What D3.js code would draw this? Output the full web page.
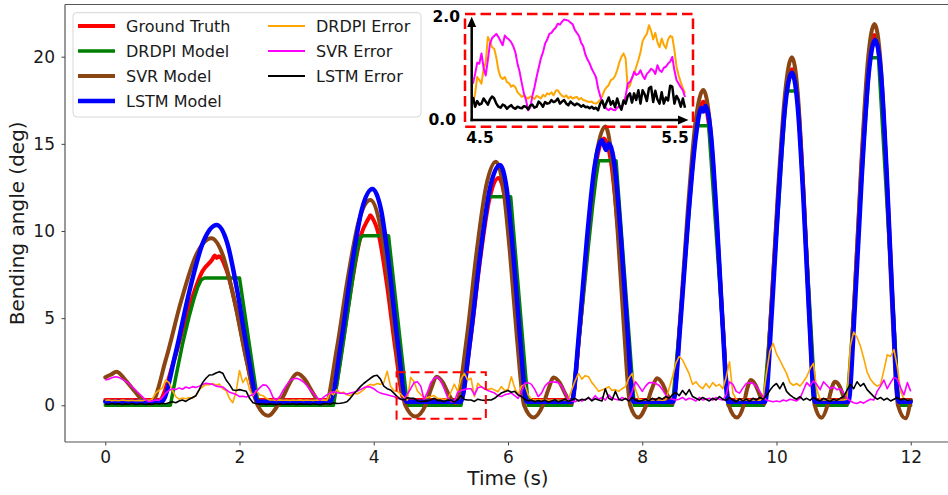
<!DOCTYPE html>
<html><head><meta charset="utf-8">
<script src="https://cdn.jsdelivr.net/npm/d3@7"></script>
<style>body{margin:0;background:#fff;} svg{display:block;}</style>
</head><body><svg id="c" width="948" height="495"></svg>
<script>
// ---------------- DATA ----------------
const xTicks = [0, 2, 4, 6, 8, 10, 12];
const yTicks = [0, 5, 10, 15, 20];
const seriesNames = ['Ground Truth','DRDPI Model','SVR Model','LSTM Model','DRDPI Error','SVR Error','LSTM Error'];

// model curves: [time (s), angle (deg)]
const truthPts = [
[0,0.3],[0.8,0.3],[1.02,2.52],[1.23,5.40],[1.45,7.71],[1.60,8.40],[1.63,8.60],[1.66,8.45],[1.69,8.55],[1.81,7.71],[1.96,5.40],[2.11,2.52],[2.26,0.3],
[3.38,0.3],[3.52,3.14],[3.665,6.82],[3.81,9.77],[3.92,10.70],[3.95,10.90],[3.98,10.75],[4.075,9.77],[4.20,6.82],[4.325,3.14],[4.45,0.3],
[5.30,0.3],[5.44,3.74],[5.58,8.20],[5.72,11.77],[5.86,13.04],[5.96,11.77],[6.065,8.20],[6.17,3.74],[6.27,0.3],
[6.95,0.3],[7.07,4.35],[7.19,9.6],[7.31,13.8],[7.43,15.3],[7.54,13.8],[7.65,9.6],[7.76,4.35],[7.87,0.3],
[8.46,0.3],[8.57,4.92],[8.685,10.91],[8.80,15.71],[8.91,17.42],[9.005,15.71],[9.10,10.91],[9.195,4.92],[9.29,0.3],
[9.82,0.3],[9.92,5.42],[10.025,12.07],[10.13,17.38],[10.23,19.28],[10.32,17.38],[10.405,12.07],[10.49,5.42],[10.58,0.3],
[11.06,0.3],[11.16,5.96],[11.26,13.29],[11.36,19.16],[11.46,21.25],[11.55,19.16],[11.64,13.29],[11.73,5.96],[11.82,0.3],
[12,0.3]];

const drdpiPts = [
[0,0],[0.97,0],[1.05,1.6],[1.15,3.5],[1.25,5.1],[1.32,6.1],[1.38,6.8],[1.43,7.2],[1.48,7.3],[2.0,7.3],[2.28,0],
[3.40,0],[3.50,2.4],[3.58,4.5],[3.65,6.3],[3.71,7.9],[3.76,9.0],[3.80,9.6],[3.84,9.73],[4.22,9.73],[4.50,0],
[5.30,0],[5.40,2.9],[5.48,5.4],[5.56,7.9],[5.62,9.7],[5.67,11.0],[5.71,11.97],[6.04,11.97],[6.30,0],
[6.95,0],[7.05,3.5],[7.13,6.5],[7.20,9.2],[7.26,11.4],[7.31,13.0],[7.35,14.03],[7.61,14.03],[7.88,0],
[8.45,0],[8.54,3.8],[8.61,7.0],[8.68,10.3],[8.74,13.2],[8.78,14.9],[8.81,16.04],[8.99,16.04],[9.28,0],
[9.81,0],[9.89,3.8],[9.96,7.6],[10.03,11.4],[10.08,14.4],[10.12,16.6],[10.15,18.03],[10.31,18.03],[10.58,0],
[11.05,0],[11.13,4.2],[11.20,8.4],[11.26,12.4],[11.31,15.5],[11.36,18.2],[11.39,19.94],[11.52,19.94],[11.82,0],[12,0]];

const svrPts = [
[0,1.6],[0.08,1.75],[0.17,1.93],[0.30,1.45],[0.45,0.75],[0.60,0.15],[0.68,0.1],
[0.905,2.66],[1.13,5.98],[1.355,8.63],[1.58,9.58],[1.75,8.63],[1.925,5.98],[2.10,2.66],[2.27,0],[2.43,-0.6],[2.57,0],[2.65,0.5],[2.75,1.3],[2.86,1.82],[2.97,1.5],[3.08,0.8],[3.20,0.15],[3.28,0.1],
[3.45,3.25],[3.615,7.34],[3.78,10.61],[3.95,11.78],[4.08,10.6],[4.21,7.3],[4.34,3.2],[4.47,0],[4.62,-0.65],[4.77,0],[4.85,0.9],[4.94,1.64],[5.03,1.3],[5.12,0.6],[5.22,0.1],
[5.385,3.85],[5.53,8.71],[5.675,12.59],[5.82,13.98],[5.925,12.6],[6.03,8.7],[6.135,3.8],[6.24,0],[6.38,-0.7],[6.52,0],[6.60,0.9],[6.68,1.6],[6.77,1.3],[6.86,0.6],[6.94,0.1],
[7.07,4.39],[7.195,9.96],[7.32,14.41],[7.45,16.0],[7.54,14.4],[7.635,9.9],[7.73,4.3],[7.82,0],[7.94,-0.7],[8.06,0],[8.14,0.9],[8.22,1.55],[8.30,1.25],[8.38,0.55],[8.45,0.1],
[8.565,4.96],[8.68,11.25],[8.795,16.29],[8.91,18.09],[9.005,16.3],[9.10,11.2],[9.195,4.9],[9.29,0],[9.41,-0.7],[9.51,0],[9.56,0.9],[9.62,1.45],[9.69,1.15],[9.76,0.5],[9.82,0.1],
[9.92,5.46],[10.025,12.42],[10.13,17.98],[10.23,19.97],[10.315,18.0],[10.40,12.4],[10.485,5.4],[10.57,0],[10.67,-0.72],[10.76,0],[10.81,0.8],[10.87,1.35],[10.94,1.1],[11.00,0.5],[11.06,0.1],
[11.16,5.98],[11.26,13.60],[11.36,19.70],[11.46,21.88],[11.55,19.7],[11.635,13.5],[11.72,5.9],[11.81,0],[11.92,-0.75],[12,0.3]];

const lstmPts = [
[0,0.2],[0.84,0.2],[1.045,2.94],[1.25,6.49],[1.455,9.33],[1.66,10.34],[1.815,9.33],[1.97,6.49],[2.125,2.94],[2.28,0.2],
[3.35,0.2],[3.51,3.50],[3.665,7.77],[3.82,11.19],[3.98,12.41],[4.11,11.19],[4.235,7.77],[4.36,3.50],[4.49,0.2],
[5.29,0.2],[5.44,3.87],[5.585,8.63],[5.73,12.43],[5.88,13.79],[5.98,12.43],[6.08,8.63],[6.18,3.87],[6.28,0.2],
[6.95,0.2],[7.06,4.25],[7.175,9.5],[7.29,13.7],[7.40,15.2],[7.46,14.65],[7.50,15.0],[7.59,13.7],[7.685,9.5],[7.78,4.25],[7.87,0.2],
[8.46,0.2],[8.57,4.78],[8.685,10.72],[8.80,15.47],[8.88,17.05],[8.91,16.85],[8.94,17.17],[9.025,15.47],[9.11,10.72],[9.195,4.78],[9.28,0.2],
[9.83,0.2],[9.93,5.30],[10.03,11.91],[10.13,17.19],[10.23,19.08],[10.315,17.19],[10.40,11.91],[10.485,5.30],[10.57,0.2],
[11.07,0.2],[11.17,5.81],[11.27,13.07],[11.37,18.88],[11.47,20.96],[11.56,18.88],[11.645,13.07],[11.73,5.81],[11.82,0.2],[12,0.2]];

// error curves sampled every 0.05 s from 0 to 12 s
const drdpiErr = [
0.28,0.30,0.27,0.29,0.26,0.30,0.28,0.27,0.29,0.26,
0.28,0.27,0.30,0.28,0.35,0.70,0.85,1.00,1.45,1.30,
0.85,0.50,0.35,0.42,0.38,0.45,0.40,0.55,0.90,1.05,
1.20,1.18,1.25,1.15,1.22,0.95,0.85,0.40,0.15,0.80,
2.00,1.30,1.60,0.90,0.55,0.85,0.60,0.55,0.40,0.30,
0.30,0.28,0.31,0.29,0.30,0.28,0.30,0.29,0.31,0.28,
0.30,0.29,0.28,0.30,0.29,0.31,0.28,0.75,0.60,0.90,
0.70,0.75,0.60,0.55,0.70,0.65,0.75,0.90,1.10,1.20,
1.15,1.25,1.20,1.30,1.95,1.10,0.85,0.80,0.65,0.45,
0.30,1.60,1.37,0.82,0.62,0.42,0.45,0.50,0.56,0.40,
0.38,0.33,0.37,0.76,1.21,0.80,1.52,1.83,1.45,1.55,
0.50,1.26,1.07,0.95,0.90,0.97,0.88,0.78,1.07,0.85,
0.90,1.64,1.00,0.60,1.10,1.20,0.60,0.35,0.30,0.32,
0.30,0.31,0.29,0.30,0.31,0.29,0.30,0.32,0.30,0.90,
1.40,1.83,1.50,1.70,1.64,1.30,1.07,0.80,0.88,0.95,
1.07,0.85,0.90,0.80,0.95,1.07,1.55,1.83,0.90,0.35,
0.30,0.31,0.29,0.30,0.32,0.30,0.29,0.31,0.95,1.64,
2.40,2.80,2.60,2.20,1.80,1.20,1.35,1.10,0.95,1.25,
1.00,1.30,1.10,1.20,0.95,1.60,2.50,0.70,0.35,0.30,
0.31,0.29,0.30,0.32,0.30,0.29,0.40,1.80,3.10,3.55,
2.95,2.60,2.20,1.83,1.30,1.15,1.25,1.10,1.35,1.64,
2.10,2.40,0.90,0.35,0.30,0.31,0.29,0.30,0.31,0.30,
0.30,0.35,3.40,4.20,3.90,3.40,2.70,1.90,1.50,1.25,
1.10,1.20,2.00,2.90,2.80,3.20,2.20,0.80,0.35,0.32,
0.30];

const svrErr = [
1.45,1.50,1.58,1.64,1.60,1.50,1.40,1.26,1.05,0.88,
0.69,0.50,0.31,0.20,0.25,0.30,0.28,0.45,0.70,0.85,
0.95,0.90,1.00,0.92,1.05,0.98,1.07,1.02,1.10,1.20,
1.26,1.24,1.20,1.10,1.07,1.05,0.90,0.75,0.69,0.62,
0.50,0.52,0.48,0.55,0.60,0.80,1.00,1.17,1.15,0.90,
0.45,0.30,0.50,0.85,1.15,1.40,1.52,1.55,1.48,1.35,
1.15,0.90,0.69,0.45,0.30,0.45,0.60,0.70,0.78,0.72,
0.70,0.69,0.65,0.70,0.75,0.80,0.90,1.00,1.07,1.05,
0.95,0.80,0.70,0.65,0.60,0.55,0.50,0.40,0.35,0.30,
0.65,0.95,1.30,1.35,1.10,0.35,0.75,1.30,1.55,1.62,
1.40,0.95,0.45,0.21,0.21,0.75,0.85,0.90,0.95,0.95,
0.60,1.00,1.07,0.95,0.85,0.78,0.70,0.55,0.50,0.60,
0.65,0.70,0.55,0.40,0.80,1.26,1.30,1.20,0.90,0.50,
0.70,1.10,1.30,1.35,1.33,1.30,1.10,0.70,0.35,0.25,
0.20,0.30,0.25,0.35,0.40,0.30,0.55,0.35,0.45,0.30,
0.60,0.40,0.35,0.30,0.45,0.35,0.30,0.80,1.35,1.10,
0.80,1.10,1.30,1.30,1.25,1.15,0.90,0.60,0.40,0.35,
0.30,0.35,0.45,0.30,0.40,0.35,0.25,0.45,0.30,0.35,
0.40,0.30,0.45,0.35,0.30,0.60,1.35,1.20,0.80,0.70,
1.00,1.25,1.30,1.25,1.10,0.80,0.50,0.30,0.25,0.20,
0.25,0.20,0.30,0.25,0.35,0.30,0.25,0.40,0.85,1.30,
1.10,1.40,1.20,0.90,1.35,1.15,0.95,1.05,0.90,0.95,
0.70,0.40,0.25,0.15,0.10,0.20,0.12,0.25,0.35,0.30,
0.80,1.10,1.45,0.95,1.30,1.60,1.50,1.00,0.60,1.30,
0.80];

const lstmErr = [
0.08,0.05,0.10,0.06,0.09,0.04,0.08,0.06,0.10,0.05,
0.07,0.09,0.05,0.08,0.06,0.10,0.07,0.12,0.09,0.15,
0.20,0.15,0.25,0.30,0.22,0.35,0.45,0.55,0.90,1.30,
1.55,1.74,1.75,1.85,1.93,1.84,1.45,1.20,0.88,0.85,
0.90,0.85,0.80,0.40,0.15,0.10,0.06,0.09,0.05,0.08,
0.06,0.04,0.08,0.05,0.07,0.06,0.09,0.05,0.08,0.06,
0.07,0.05,0.09,0.06,0.04,0.08,0.10,0.06,0.15,0.10,
0.12,0.15,0.20,0.40,0.65,0.85,1.07,1.25,1.40,1.55,
1.68,1.72,1.50,1.10,0.95,0.88,0.70,0.50,0.35,0.30,
0.43,0.40,0.40,0.26,0.20,0.24,0.24,0.30,0.40,0.27,
0.28,0.21,0.30,0.28,0.18,0.32,0.56,0.33,0.30,0.30,
0.22,0.35,0.30,0.28,0.32,0.30,0.40,0.55,0.70,0.78,
0.85,0.75,0.80,0.60,0.50,0.35,0.25,0.30,0.20,0.28,
0.22,0.30,0.18,0.25,0.32,0.20,0.28,0.35,0.22,0.30,
0.40,0.25,0.35,0.30,0.45,0.25,0.38,0.30,0.25,0.95,
0.40,0.30,0.80,0.35,0.28,0.40,0.25,0.45,0.30,0.22,
0.28,0.35,0.25,0.40,0.30,0.45,0.35,0.50,0.40,0.60,
0.75,0.55,0.85,0.60,0.90,0.50,0.40,0.30,0.45,0.35,
0.25,0.40,0.30,0.50,0.35,0.28,0.45,0.30,0.20,0.38,
0.25,0.35,0.22,0.40,0.30,0.45,0.35,0.55,0.85,1.10,
1.25,0.95,1.30,0.80,0.60,0.45,0.35,0.50,0.30,0.40,
0.28,0.45,0.32,0.25,0.40,0.30,0.22,0.35,0.28,0.40,
0.50,0.85,1.20,0.95,1.35,1.10,1.25,0.90,0.70,0.50,
0.35,0.45,0.30,0.40,0.25,0.35,0.45,0.30,0.38,0.28,
0.30];

// inset (4.5 s – 5.5 s), sampled every 0.01 s
const insetXTicks = [4.5, 5.5];
const insetYTicks = [0.0, 2.0];
const insetDrdpi = [
0.30,0.50,0.82,0.76,0.69,0.98,1.10,1.60,1.52,1.40,
1.37,1.20,0.95,0.82,0.78,0.82,0.72,0.70,0.63,0.66,
0.62,0.52,0.48,0.43,0.46,0.42,0.40,0.44,0.42,0.39,
0.45,0.43,0.40,0.47,0.44,0.50,0.48,0.52,0.46,0.55,
0.56,0.50,0.45,0.43,0.46,0.40,0.44,0.40,0.42,0.43,
0.38,0.41,0.37,0.36,0.34,0.33,0.34,0.31,0.30,0.33,
0.37,0.45,0.56,0.62,0.66,0.76,0.78,0.84,0.95,1.10,
1.21,1.28,1.18,0.60,0.65,0.80,0.88,1.02,1.15,1.30,
1.52,1.60,1.66,1.83,1.72,1.55,1.68,1.50,1.40,1.57,
1.45,1.38,1.55,1.62,1.60,1.35,1.02,0.85,0.72,0.60,
0.50];
const insetSvr = [
0.69,0.88,1.10,1.08,1.28,1.00,0.85,1.15,1.47,1.58,
1.62,1.66,1.60,1.52,1.44,1.63,1.58,1.55,1.50,1.42,
1.30,1.08,0.92,0.70,0.50,0.37,0.17,0.22,0.45,0.62,
0.82,1.00,1.18,1.30,1.47,1.55,1.66,1.68,1.74,1.78,
1.86,1.84,1.90,1.94,1.93,1.92,1.88,1.85,1.74,1.68,
1.62,1.49,1.42,1.26,1.16,1.09,0.98,0.90,0.82,0.60,
0.45,0.32,0.26,0.20,0.17,0.21,0.18,0.17,0.22,0.24,
0.21,0.30,0.45,0.69,0.72,0.80,0.92,0.86,0.88,0.95,
0.85,0.78,0.88,0.92,0.98,0.95,0.88,1.05,0.95,0.92,
1.00,1.02,1.08,1.12,1.21,0.95,0.76,0.69,0.62,0.56,
0.43];
const insetLstm = [
0.43,0.24,0.35,0.28,0.30,0.40,0.34,0.28,0.38,0.44,
0.40,0.30,0.24,0.22,0.28,0.26,0.20,0.24,0.27,0.22,
0.20,0.24,0.22,0.21,0.25,0.24,0.19,0.26,0.28,0.22,
0.24,0.34,0.30,0.24,0.33,0.30,0.31,0.37,0.33,0.35,
0.40,0.30,0.34,0.37,0.30,0.27,0.34,0.30,0.27,0.30,
0.28,0.24,0.27,0.23,0.24,0.21,0.24,0.20,0.22,0.17,
0.30,0.36,0.22,0.32,0.42,0.28,0.35,0.23,0.40,0.27,
0.18,0.36,0.30,0.45,0.50,0.32,0.50,0.37,0.56,0.30,
0.56,0.48,0.35,0.60,0.63,0.33,0.55,0.38,0.30,0.52,
0.30,0.42,0.36,0.65,0.63,0.30,0.45,0.38,0.24,0.40,
0.22];
// zoom-window marked on main chart (time range, angle range)
const zoomWindowT = [4.34, 5.67];
const zoomWindowV = [-0.77, 1.89];

// ---------------- STYLES ----------------
const colors = ['#ff0000','#008000','#8b4513','#0000ff','#ffa500','#ff00ff','#000000'];
const widths = [4, 3.5, 4, 4.5, 1.6, 1.6, 1.6];
const FONT = "'DejaVu Sans', sans-serif";

// ---------------- CHART ----------------
const svg = d3.select('#c');
const P = {l:65, r:951, t:4.5, b:442};
const x = d3.scaleLinear().domain([-0.6, 12.6]).range([P.l, P.r]);
const y = d3.scaleLinear().domain([-2.106, 22.995]).range([P.b, P.t]);

svg.append('rect').attr('width',948).attr('height',495).attr('fill','#fff');
svg.append('defs').append('clipPath').attr('id','clip')
  .append('rect').attr('x',P.l).attr('y',P.t).attr('width',P.r-P.l).attr('height',P.b-P.t);

const gData = svg.append('g').attr('clip-path','url(#clip)');
const lineP = (curve) => d3.line().x(d=>x(d[0])).y(d=>y(d[1])).curve(curve);
const modelSets = [truthPts, drdpiPts, svrPts, lstmPts];
const curves = [d3.curveMonotoneX, d3.curveLinear, d3.curveMonotoneX, d3.curveMonotoneX];
modelSets.forEach((pts,i)=>{
  gData.append('path').datum(pts).attr('d', lineP(curves[i])(pts))
    .attr('fill','none').attr('stroke',colors[i]).attr('stroke-width',widths[i])
    .attr('stroke-linejoin','round').attr('stroke-linecap','round');
});
const time = d3.range(drdpiErr.length).map(i => i*0.05);
const errLine = d3.line().x((d,i)=>x(time[i])).y(d=>y(d));
[drdpiErr, svrErr, lstmErr].forEach((arr,j)=>{
  gData.append('path').attr('d', errLine(arr))
    .attr('fill','none').attr('stroke',colors[4+j]).attr('stroke-width',widths[4+j])
    .attr('stroke-linejoin','round');
});

// zoom window rect
svg.append('rect')
  .attr('x', x(zoomWindowT[0])).attr('y', y(zoomWindowV[1]))
  .attr('width', x(zoomWindowT[1])-x(zoomWindowT[0]))
  .attr('height', y(zoomWindowV[0])-y(zoomWindowV[1]))
  .attr('fill','none').attr('stroke','#ff0000').attr('stroke-width',2).attr('stroke-dasharray','9,5');

// spines
const spine = svg.append('g').attr('stroke','#555').attr('stroke-width',1.2);
spine.append('line').attr('x1',P.l).attr('x2',P.l).attr('y1',P.t).attr('y2',P.b);
spine.append('line').attr('x1',P.l).attr('x2',P.r).attr('y1',P.b).attr('y2',P.b);
spine.append('line').attr('x1',P.l).attr('x2',P.r).attr('y1',P.t).attr('y2',P.t);

// axes
const xAxis = svg.append('g').attr('transform',`translate(0,${P.b})`)
  .call(d3.axisBottom(x).tickValues(xTicks).tickSize(3.5).tickPadding(5.5).tickFormat(d3.format('d')));
const yAxis = svg.append('g').attr('transform',`translate(${P.l},0)`)
  .call(d3.axisLeft(y).tickValues(yTicks).tickSize(3.5).tickPadding(6.5).tickFormat(d3.format('d')));
[xAxis,yAxis].forEach(a=>{
  a.select('.domain').remove();
  a.selectAll('line').attr('stroke','#444');
  a.selectAll('text').attr('font-family',FONT).attr('font-size',17).attr('fill','#1a1a1a');
});

svg.append('text').attr('x',(P.l+P.r)/2).attr('y',485).attr('text-anchor','middle')
  .attr('font-family',FONT).attr('font-size',20).attr('fill','#1a1a1a').text('Time (s)');
svg.append('text').attr('transform',`translate(24,${(P.t+P.b)/2}) rotate(-90)`).attr('text-anchor','middle')
  .attr('font-family',FONT).attr('font-size',20).attr('fill','#1a1a1a').text('Bending angle (deg)');

// legend
const lg = svg.append('g');
lg.append('rect').attr('x',73).attr('y',12.7).attr('width',348).attr('height',104.3).attr('rx',4)
  .attr('fill','#fff').attr('fill-opacity',0.8).attr('stroke','#d6d6d6').attr('stroke-width',1);
seriesNames.forEach((name,i)=>{
  const col = i<4 ? 0 : 1, row = i<4 ? i : i-4;
  const hx = col===0 ? 78 : 268, tx = col===0 ? 126 : 316;
  const cy = 26 + row*25;
  lg.append('line').attr('x1',hx).attr('x2',hx+37).attr('y1',cy).attr('y2',cy)
    .attr('stroke',colors[i]).attr('stroke-width', i<4 ? widths[i] : 2);
  lg.append('text').attr('x',tx).attr('y',cy).attr('dy','0.36em')
    .attr('font-family',FONT).attr('font-size',16).attr('fill','#1a1a1a').text(name);
});

// inset
const ix = d3.scaleLinear().domain(insetXTicks).range([473, 685]);
const iy = d3.scaleLinear().domain(insetYTicks).range([119, 16.5]);
const ig = svg.append('g');
ig.append('rect').attr('x',465).attr('y',14).attr('width',228).attr('height',112.7)
  .attr('fill','none').attr('stroke','#ff0000').attr('stroke-width',2.5).attr('stroke-dasharray','10.5,5');
const itime = d3.range(insetDrdpi.length).map(i => 4.5 + i*0.01);
const iLine = d3.line().x((d,i)=>ix(itime[i])).y(d=>iy(d));
[insetDrdpi, insetSvr, insetLstm].forEach((arr,j)=>{
  ig.append('path').attr('d', iLine(arr)).attr('fill','none')
    .attr('stroke',colors[4+j]).attr('stroke-width', j===2 ? 2.5 : 2).attr('stroke-linejoin','round');
});
// arrows
const ax0 = 471.7, ay0 = 120;
ig.append('line').attr('x1',ax0).attr('x2',ax0).attr('y1',121.2).attr('y2',26).attr('stroke','#000').attr('stroke-width',2.5);
ig.append('path').attr('d',`M${ax0},16.7 L${ax0-4.5},27 L${ax0+4.5},27 Z`).attr('fill','#000');
ig.append('line').attr('x1',ax0-1.2).attr('x2',679).attr('y1',ay0).attr('y2',ay0).attr('stroke','#000').attr('stroke-width',2.5);
ig.append('path').attr('d',`M688.5,${ay0} L678,${ay0-4.5} L678,${ay0+4.5} Z`).attr('fill','#000');
const fmt1 = d3.format('.1f');
ig.append('text').attr('x',460).attr('y',22).attr('text-anchor','end').attr('font-family',FONT)
  .attr('font-weight','bold').attr('font-size',15.5).text(fmt1(insetYTicks[1]));
ig.append('text').attr('x',456).attr('y',124.5).attr('text-anchor','end').attr('font-family',FONT)
  .attr('font-weight','bold').attr('font-size',15.5).text(fmt1(insetYTicks[0]));
ig.append('text').attr('x',480).attr('y',143).attr('text-anchor','middle').attr('font-family',FONT)
  .attr('font-weight','bold').attr('font-size',15.5).text(fmt1(insetXTicks[0]));
ig.append('text').attr('x',675).attr('y',143).attr('text-anchor','middle').attr('font-family',FONT)
  .attr('font-weight','bold').attr('font-size',15.5).text(fmt1(insetXTicks[1]));
</script>
</body></html>
